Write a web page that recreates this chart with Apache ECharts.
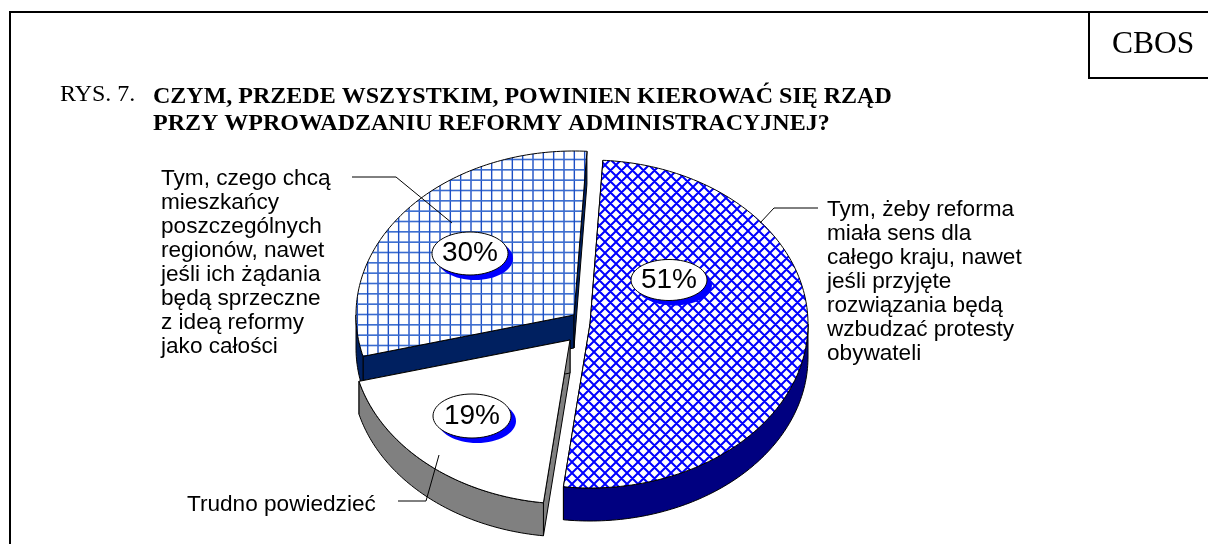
<!DOCTYPE html>
<html>
<head>
<meta charset="utf-8">
<title>CBOS RYS. 7</title>
<script src="https://cdn.jsdelivr.net/npm/echarts@6/dist/echarts.min.js"></script>
<style>
html, body { margin: 0; padding: 0; background: #fff; }
#chart { width: 1208px; height: 544px; }
</style>
</head>
<body>
<div id="chart"></div>
<script>
// clockwise from the top of the pie
const categories = [
  'Tym, żeby reforma\nmiała sens dla\ncałego kraju, nawet\njeśli przyjęte\nrozwiązania będą\nwzbudzać protesty\nobywateli',
  'Trudno powiedzieć',
  'Tym, czego chcą\nmieszkańcy\nposzczególnych\nregionów, nawet\njeśli ich żądania\nbędą sprzeczne\nz ideą reformy\njako całości'
]
const shares = [51, 19, 30]

const figureLabel = 'RYS. 7.'
const figureTitle = 'CZYM, PRZEDE WSZYSTKIM, POWINIEN KIEROWAĆ SIĘ RZĄD\nPRZY WPROWADZANIU REFORMY ADMINISTRACYJNEJ?'
const sourceLabel = 'CBOS'

// layout of the tilted pie, same order as shares
const startAngle = 3.4
const radiusX = 218
const radiusY = 164
const depth = 33
const sliceCenters = [[590, 324], [570, 340], [574, 315]]
const sliceZ = [30, 20, 10]
const wallColors = ['#000080', '#808080', '#002060']
const bubbles = [
  { x: 669, y: 280, rx: 38, ry: 20.5 },
  { x: 472, y: 416, rx: 39, ry: 22 },
  { x: 470, y: 253.5, rx: 38, ry: 21.5 }
]
const leaders = [
  [[818, 208], [774, 208], [760, 223]],
  [[398, 501], [426, 501], [439, 455]],
  [[352, 177], [396, 177], [452, 223]]
]
const captionPositions = [[827, 198], [187, 493], [161, 167]]

function crossTile() {
  const tile = document.createElement('canvas')
  tile.width = 11
  tile.height = 11
  const ctx = tile.getContext('2d')
  ctx.fillStyle = '#fff'
  ctx.fillRect(0, 0, 11, 11)
  ctx.strokeStyle = '#0000ff'
  ctx.lineWidth = 2
  ctx.beginPath()
  for (let i = -11; i <= 11; i += 11) {
    ctx.moveTo(i, 0)
    ctx.lineTo(i + 11, 11)
    ctx.moveTo(i + 11, 0)
    ctx.lineTo(i, 11)
  }
  ctx.stroke()
  return tile
}

function gridTile() {
  const tile = document.createElement('canvas')
  tile.width = 31
  tile.height = 31
  const ctx = tile.getContext('2d')
  ctx.fillStyle = '#fff'
  ctx.fillRect(0, 0, 31, 31)
  for (let i = 0; i < 3; i++) {
    ctx.fillStyle = '#1d4fc4'
    ctx.fillRect(6 + i * 10.33 - 0.7, 0, 1.4, 31)
    ctx.fillStyle = '#3a6ccf'
    ctx.fillRect(0, 4.5 + i * 10.33 - 0.8, 31, 1.6)
  }
  return tile
}

const sliceFills = [
  { image: crossTile(), repeat: 'repeat' },
  '#fff',
  { image: gridTile(), repeat: 'repeat' }
]

function rimPoint(center, angle, drop) {
  const rad = angle * Math.PI / 180
  return [
    center[0] + radiusX * Math.sin(rad),
    center[1] - radiusY * Math.cos(rad) + drop
  ]
}

function arcPoints(center, from, to, drop) {
  const points = []
  const steps = Math.max(2, Math.ceil(Math.abs(to - from)))
  for (let i = 0; i <= steps; i++) {
    points.push(rimPoint(center, from + (to - from) * i / steps, drop))
  }
  return points
}

function renderSlice(params, api) {
  const index = params.dataIndex
  const total = shares.reduce((sum, value) => sum + value, 0)
  const before = shares.slice(0, index).reduce((sum, value) => sum + value, 0)
  const from = startAngle + before / total * 360
  const to = from + api.value(0) / total * 360
  const center = sliceCenters[index]
  const z = sliceZ[index]
  const apexLow = [center[0], center[1] + depth]
  const edge = { stroke: '#000', lineWidth: 1 }
  const children = []

  // radial walls first, the top surface hides the ones facing away
  ;[from, to].forEach((angle) => {
    children.push({
      type: 'polygon',
      z2: z,
      shape: { points: [center, rimPoint(center, angle, 0), rimPoint(center, angle, depth), apexLow] },
      style: { fill: wallColors[index], ...edge }
    })
  })

  const wallFrom = Math.max(from, 90)
  const wallTo = Math.min(to, 270)
  if (wallTo > wallFrom) {
    children.push({
      type: 'polygon',
      z2: z + 1,
      shape: {
        points: arcPoints(center, wallFrom, wallTo, 0).concat(arcPoints(center, wallTo, wallFrom, depth))
      },
      style: { fill: wallColors[index], ...edge }
    })
  }

  children.push({
    type: 'polygon',
    z2: z + 2,
    shape: { points: [center].concat(arcPoints(center, from, to, 0)) },
    style: { fill: sliceFills[index], ...edge }
  })

  children.push({
    type: 'polyline',
    z2: 50,
    shape: { points: leaders[index] },
    style: { fill: 'none', stroke: '#000', lineWidth: 1 }
  })

  const bubble = bubbles[index]
  children.push({
    type: 'ellipse',
    z2: 51,
    shape: { cx: bubble.x + 5, cy: bubble.y + 5, rx: bubble.rx, ry: bubble.ry },
    style: { fill: '#0000ff' }
  })
  children.push({
    type: 'ellipse',
    z2: 52,
    shape: { cx: bubble.x, cy: bubble.y, rx: bubble.rx, ry: bubble.ry },
    style: { fill: '#fff', stroke: '#000', lineWidth: 1 }
  })
  children.push({
    type: 'text',
    z2: 53,
    style: {
      text: api.value(0) + '%',
      x: bubble.x,
      y: bubble.y,
      fill: '#000',
      font: '28px "Liberation Sans"',
      align: 'center',
      verticalAlign: 'middle'
    }
  })
  children.push({
    type: 'text',
    z2: 53,
    style: {
      text: categories[index],
      x: captionPositions[index][0],
      y: captionPositions[index][1],
      fill: '#000',
      font: '22.6px "Liberation Sans"',
      lineHeight: 24,
      align: 'left',
      verticalAlign: 'top'
    }
  })

  return { type: 'group', children }
}

function frameLine(x1, y1, x2, y2) {
  return {
    type: 'line',
    shape: { x1, y1, x2, y2 },
    style: { stroke: '#000', lineWidth: 2 }
  }
}

const chart = echarts.init(document.getElementById('chart'), null, { renderer: 'canvas' })

chart.setOption({
  animation: false,
  backgroundColor: '#fff',
  title: {
    text: figureTitle,
    left: 153,
    top: 83,
    padding: 0,
    textStyle: {
      fontFamily: 'Liberation Serif',
      fontWeight: 'bold',
      fontSize: 24,
      lineHeight: 27,
      color: '#000'
    }
  },
  graphic: [
    frameLine(10, 12, 1208, 12),
    frameLine(10, 11, 10, 544),
    frameLine(1089, 12, 1089, 78),
    frameLine(1088, 78, 1208, 78),
    {
      type: 'text',
      style: {
        text: sourceLabel,
        x: 1112,
        y: 29,
        fill: '#000',
        font: '31.5px "Liberation Serif"'
      }
    },
    {
      type: 'text',
      style: {
        text: figureLabel,
        x: 60,
        y: 83,
        fill: '#000',
        font: '24px "Liberation Serif"'
      }
    }
  ],
  series: [
    {
      type: 'custom',
      coordinateSystem: 'none',
      renderItem: renderSlice,
      data: shares.map((value) => [value]),
      silent: true
    }
  ]
})
</script>
</body>
</html>
